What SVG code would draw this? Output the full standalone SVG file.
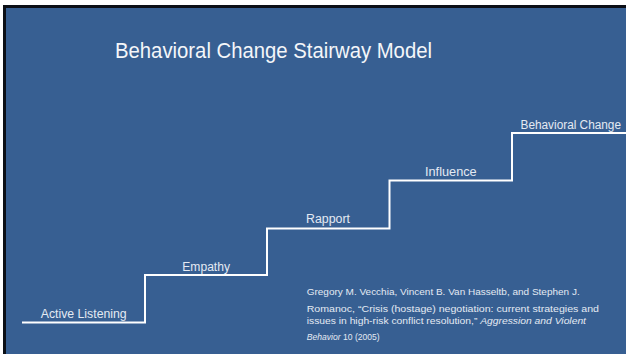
<svg xmlns="http://www.w3.org/2000/svg" width="626" height="354" viewBox="0 0 626 354">
  <style>
    .label { font-family: "Liberation Sans", Arial, sans-serif; font-size: 12.5px; fill: #E4EAF2; }
    .title { font-family: "Liberation Sans", Arial, sans-serif; font-size: 22px; fill: #F4F6F9; }
    .cite { font-family: "Liberation Sans", Arial, sans-serif; font-size: 9.5px; fill: #E4EAF2; }
    .stair { fill: none; stroke: #FFFFFF; stroke-width: 2; stroke-linejoin: miter; }
  </style>

  <!-- page margin, slide frame and background -->
  <rect x="0" y="0" width="626" height="354" fill="#FFFFFF"/>
  <rect x="3" y="5" width="623" height="349" fill="#0B0F16"/>
  <rect x="6" y="8" width="620" height="346" fill="#375F92"/>

  <!-- title -->
  <text class="title" x="115" y="58" textLength="317" lengthAdjust="spacingAndGlyphs">Behavioral Change Stairway Model</text>

  <!-- stair outline -->
  <g id="connectors">
    <path class="stair" d="M22 322.5 H145 V275 H267 V228.5 H389.5 V180.5 H512 V133 H626"/>
  </g>

  <g id="step-active-listening">
    <text class="label" x="40.7" y="317.5" textLength="86" lengthAdjust="spacingAndGlyphs">Active Listening</text>
  </g>
  <g id="step-empathy">
    <text class="label" x="182.3" y="270.5" textLength="47.7" lengthAdjust="spacingAndGlyphs">Empathy</text>
  </g>
  <g id="step-rapport">
    <text class="label" x="306" y="223.3" textLength="44" lengthAdjust="spacingAndGlyphs">Rapport</text>
  </g>
  <g id="step-influence">
    <text class="label" x="425" y="176" textLength="51.7" lengthAdjust="spacingAndGlyphs">Influence</text>
  </g>
  <g id="step-behavioral-change">
    <text class="label" x="520.5" y="128.5" textLength="100.5" lengthAdjust="spacingAndGlyphs">Behavioral Change</text>
  </g>

  <!-- citation -->
  <g id="citation">
    <text class="cite" x="306.7" y="295" textLength="273" lengthAdjust="spacingAndGlyphs">Gregory M. Vecchia, Vincent B. Van Hasseltb, and Stephen J.</text>
    <text class="cite" x="306.7" y="311.5" textLength="292.3" lengthAdjust="spacingAndGlyphs">Romanoc, “Crisis (hostage) negotiation: current strategies and</text>
    <text class="cite" x="306.7" y="324" textLength="279.3" lengthAdjust="spacingAndGlyphs">issues in high-risk conflict resolution,” <tspan font-style="italic">Aggression and Violent</tspan></text>
    <text class="cite" x="306.7" y="339.5" textLength="73" lengthAdjust="spacingAndGlyphs"><tspan font-style="italic">Behavior</tspan> 10 (2005)</text>
  </g>
</svg>
